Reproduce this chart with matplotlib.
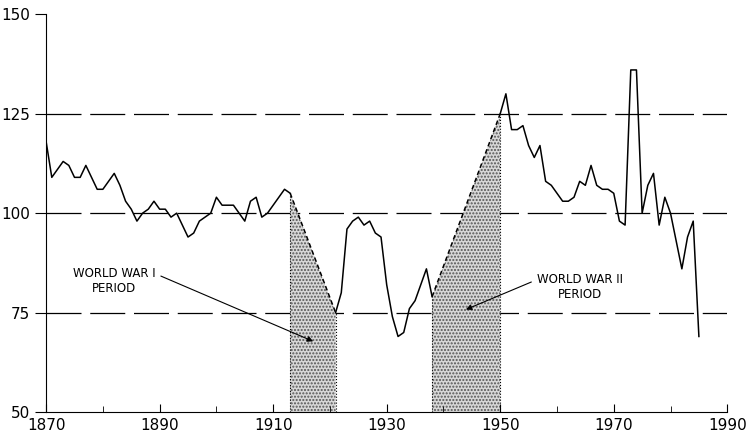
import numpy as np
import matplotlib.pyplot as plt

# pre-WWI
years_a = list(range(1870, 1914))
vals_a = [118, 109, 111, 113, 112, 109, 109, 112, 109, 106, 106, 108, 110, 107, 103, 101,
          98, 100, 101, 103, 101, 101, 99, 100, 97, 94, 95, 98, 99, 100, 104, 102, 102, 102,
          100, 98, 103, 104, 99, 100, 102, 104, 106, 105]
# inter-war
years_b = list(range(1921, 1939))
vals_b = [75, 80, 96, 98, 99, 97, 98, 95, 94, 82, 74, 69, 70, 76, 78, 82, 86, 79]
# post-WWII
years_c = list(range(1950, 1986))
vals_c = [125, 130, 121, 121, 122, 117, 114, 117, 108, 107, 105, 103, 103, 104, 108, 107,
          112, 107, 106, 106, 105, 98, 97, 136, 136, 100, 107, 110, 97, 104, 100, 93, 86,
          94, 98, 69]

ref_levels = [75, 100, 125]

fig, ax = plt.subplots(figsize=(7.56, 4.45), dpi=100)
fig.subplots_adjust(left=0.061, right=0.962, top=0.968, bottom=0.074)

for seg_x, seg_y in [(years_a, vals_a), (years_b, vals_b), (years_c, vals_c)]:
    ax.plot(seg_x, seg_y, color='black', lw=1.1)

# war periods: dashed link and stippled shading
for x0, y0, x1, y1 in [(years_a[-1], vals_a[-1], years_b[0], vals_b[0]),
                       (years_b[-1], vals_b[-1], years_c[0], vals_c[0])]:
    ax.plot([x0, x1], [y0, y1], color='black', lw=1.1, ls=(0, (3, 2)))
    ax.fill_between([x0, x1], [y0, y1], 50, facecolor='#d8d8d8', edgecolor='#555555',
                    hatch='.....', lw=0)
    ax.plot([x0, x0], [50, y0], color='black', lw=0.8, ls=':')
    ax.plot([x1, x1], [50, y1], color='black', lw=0.8, ls=':')

for lv in ref_levels:
    ax.axhline(lv, color='black', lw=0.9, ls=(0, (28, 7)), zorder=0)

fnt = dict(fontsize=8.5, family='DejaVu Sans')
ax.annotate('WORLD WAR I\nPERIOD', xy=(1917.5, 67.5), xytext=(1882, 83),
            ha='center', va='center', **fnt,
            arrowprops=dict(arrowstyle='-|>', color='black', lw=0.8,
                            relpos=(1.0, 0.75)))
ax.annotate('WORLD WAR II\nPERIOD', xy=(1943.5, 75.5), xytext=(1964, 81.5),
            ha='center', va='center', **fnt,
            arrowprops=dict(arrowstyle='-|>', color='black', lw=0.8,
                            relpos=(0.0, 0.75)))

ax.set_xlim(1870, 1990)
ax.set_ylim(50, 150)
ax.set_xticks(range(1870, 1991, 20))
ax.set_xticks(range(1870, 1991, 10), minor=True)
ax.set_yticks([50, 75, 100, 125, 150])
ax.tick_params(axis='x', direction='in', length=6, labelsize=11, pad=4)
ax.tick_params(axis='x', which='minor', direction='in', length=4)
ax.tick_params(axis='y', direction='out', length=8, labelsize=11)
ax.spines['top'].set_visible(False)
ax.spines['right'].set_visible(False)

fig.savefig('out.png')
